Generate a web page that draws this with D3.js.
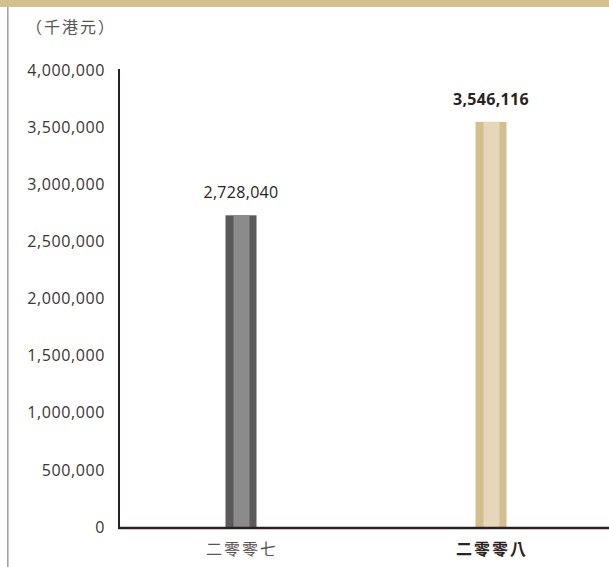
<!DOCTYPE html>
<html><head><meta charset="utf-8">
<script src="https://cdn.jsdelivr.net/npm/d3@7"></script>
<style>
html,body{margin:0;padding:0;background:#fff;}
svg{display:block;}
</style></head>
<body>
<svg id="c" width="609" height="567"></svg>
<script>
const categories = ["二零零七", "二零零八"];
const values = [2728040, 3546116];
const valueLabels = ["2,728,040", "3,546,116"];
const tickValues = [0, 500000, 1000000, 1500000, 2000000, 2500000, 3000000, 3500000, 4000000];
const unitLabel = "（千港元）";

const svg = d3.select("#c");
const W = 609, H = 567;
const x0 = 119, yBase = 527, yTop = 70;
const font = "'Open Sans','Noto Sans',sans-serif";
const cjk = "'Noto Sans CJK TC','Noto Sans CJK SC',sans-serif";

// top band and left rule
svg.append("rect").attr("x",0).attr("y",0).attr("width",W).attr("height",7).attr("fill","#d3c08f");
svg.append("rect").attr("x",7).attr("y",7).attr("width",1.6).attr("height",H-7).attr("fill","#a3a3a3");

const y = d3.scaleLinear().domain([0,4000000]).range([yBase, yTop]);
const x = d3.scalePoint().domain(categories).range([116, 616]).padding(0.5);

// y axis labels
const yAxis = d3.axisLeft(y).tickValues(tickValues).tickSize(0).tickPadding(14)
  .tickFormat(d3.format(","));
const ga = svg.append("g").attr("transform",`translate(${x0},0)`).call(yAxis);
ga.select(".domain").remove();
ga.selectAll("text").attr("font-family",font).attr("font-size",16).attr("fill","#3a3434")
  .attr("letter-spacing","0.6px");

// unit label
svg.append("text").attr("x",26).attr("y",33).attr("font-family",cjk).attr("font-size",16)
  .attr("letter-spacing","2px").attr("fill","#5a5555").text(unitLabel);

const outerW = 31, innerW = 16;
const darkC = ["#5a5a5a", "#d3bf8e"];
const lightC = ["#8b8b8b", "#e5d8ba"];

values.forEach((v,i)=>{
  const cx = x(categories[i]);
  svg.append("rect").attr("x",cx-outerW/2).attr("y",y(v)).attr("width",outerW)
    .attr("height",yBase - y(v)).attr("fill",darkC[i]);
  svg.append("rect").attr("x",cx-outerW/2+8).attr("y",y(v)).attr("width",innerW)
    .attr("height",yBase - y(v)).attr("fill",lightC[i]);
  svg.append("text").attr("x",cx).attr("y",y(v)-17).attr("text-anchor","middle")
    .attr("font-family",font).attr("font-size",16).attr("letter-spacing","0.3px")
    .attr("font-weight", i===1?"bold":"normal").attr("fill","#2a2222").text(valueLabels[i]);
  svg.append("text").attr("x",cx+1).attr("y",555).attr("text-anchor","middle")
    .attr("font-family",cjk).attr("font-size",16).attr("letter-spacing","2px")
    .attr("font-weight", i===1?"bold":"normal").attr("fill", i===1?"#2a2222":"#5a5555")
    .text(categories[i]);
});

// axes lines
svg.append("line").attr("x1",x0).attr("x2",x0).attr("y1",yTop-1).attr("y2",yBase+1.5)
  .attr("stroke","#2b2020").attr("stroke-width",2);
svg.append("line").attr("x1",x0-1).attr("x2",W).attr("y1",yBase+1).attr("y2",yBase+1)
  .attr("stroke","#2b2020").attr("stroke-width",2.4);
</script>
</body></html>
